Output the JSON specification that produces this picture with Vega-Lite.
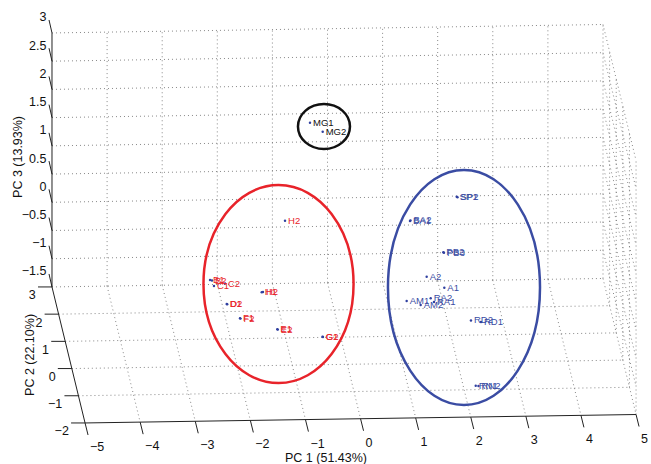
{
  "$schema": "https://vega.github.io/schema/vega-lite/v6.json",
  "width": 651,
  "height": 464,
  "autosize": {"type": "none"},
  "padding": 0,
  "background": "white",
  "config": {"view": {"stroke": null}, "font": "Liberation Sans", "text": {"font": "Liberation Sans"}},
  "encoding": {
    "x": {"field": "x", "type": "quantitative", "scale": {"domain": [-5.9437, 5.8711], "nice": false, "zero": false}, "axis": null},
    "y": {"field": "y", "type": "quantitative", "scale": {"domain": [-4.637, 3.584], "nice": false, "zero": false}, "axis": null}
  },
  "datasets": {
    "grid": [
      {"x": -4, "y": -1.485, "x2": -4, "y2": 3.015},
      {"x": -3, "y": -1.47, "x2": -3, "y2": 3.03},
      {"x": -2, "y": -1.455, "x2": -2, "y2": 3.045},
      {"x": -1, "y": -1.44, "x2": -1, "y2": 3.06},
      {"x": 0, "y": -1.425, "x2": 0, "y2": 3.075},
      {"x": 1, "y": -1.41, "x2": 1, "y2": 3.09},
      {"x": 2, "y": -1.395, "x2": 2, "y2": 3.105},
      {"x": 3, "y": -1.38, "x2": 3, "y2": 3.12},
      {"x": 4, "y": -1.365, "x2": 4, "y2": 3.135},
      {"x": 5, "y": -1.35, "x2": 5, "y2": 3.15},
      {"x": -5, "y": 3, "x2": 5, "y2": 3.15},
      {"x": -5, "y": 2.5, "x2": 5, "y2": 2.65},
      {"x": -5, "y": 2, "x2": 5, "y2": 2.15},
      {"x": -5, "y": 1.5, "x2": 5, "y2": 1.65},
      {"x": -5, "y": 1, "x2": 5, "y2": 1.15},
      {"x": -5, "y": 0.5, "x2": 5, "y2": 0.65},
      {"x": -5, "y": 0, "x2": 5, "y2": 0.15},
      {"x": -5, "y": -0.5, "x2": 5, "y2": -0.35},
      {"x": -5, "y": -1, "x2": 5, "y2": -0.85},
      {"x": -5, "y": -1.5, "x2": 5, "y2": -1.35},
      {"x": -4.88, "y": -1.982, "x2": 5.12, "y2": -1.832},
      {"x": -4.76, "y": -2.464, "x2": 5.24, "y2": -2.314},
      {"x": -4.64, "y": -2.946, "x2": 5.36, "y2": -2.796},
      {"x": -4.52, "y": -3.428, "x2": 5.48, "y2": -3.278},
      {"x": -4, "y": -1.485, "x2": -3.4, "y2": -3.895},
      {"x": -3, "y": -1.47, "x2": -2.4, "y2": -3.88},
      {"x": -2, "y": -1.455, "x2": -1.4, "y2": -3.865},
      {"x": -1, "y": -1.44, "x2": -0.4, "y2": -3.85},
      {"x": 0, "y": -1.425, "x2": 0.6, "y2": -3.835},
      {"x": 1, "y": -1.41, "x2": 1.6, "y2": -3.82},
      {"x": 2, "y": -1.395, "x2": 2.6, "y2": -3.805},
      {"x": 3, "y": -1.38, "x2": 3.6, "y2": -3.79},
      {"x": 4, "y": -1.365, "x2": 4.6, "y2": -3.775},
      {"x": 5, "y": -1.35, "x2": 5.6, "y2": -3.76},
      {"x": 5, "y": 3.15, "x2": 5.6, "y2": 0.74},
      {"x": 5, "y": 2.65, "x2": 5.6, "y2": 0.24},
      {"x": 5, "y": 2.15, "x2": 5.6, "y2": -0.26},
      {"x": 5, "y": 1.65, "x2": 5.6, "y2": -0.76},
      {"x": 5, "y": 1.15, "x2": 5.6, "y2": -1.26},
      {"x": 5, "y": 0.65, "x2": 5.6, "y2": -1.76},
      {"x": 5, "y": 0.15, "x2": 5.6, "y2": -2.26},
      {"x": 5, "y": -0.35, "x2": 5.6, "y2": -2.76},
      {"x": 5, "y": -0.85, "x2": 5.6, "y2": -3.26},
      {"x": 5.12, "y": -1.832, "x2": 5.12, "y2": 2.668},
      {"x": 5.24, "y": -2.314, "x2": 5.24, "y2": 2.186},
      {"x": 5.36, "y": -2.796, "x2": 5.36, "y2": 1.704},
      {"x": 5.48, "y": -3.278, "x2": 5.48, "y2": 1.222},
      {"x": 5.6, "y": -3.76, "x2": 5.6, "y2": 0.74}
    ],
    "axes": [
      {"x": -5, "y": -1.5, "x2": -5, "y2": 3},
      {"x": -5, "y": -1.5, "x2": -4.4, "y2": -3.91},
      {"x": -4.4, "y": -3.91, "x2": 5.6, "y2": -3.76},
      {"x": -5, "y": 3, "x2": -5.054, "y2": 3.23},
      {"x": -5, "y": 2.5, "x2": -5.054, "y2": 2.73},
      {"x": -5, "y": 2, "x2": -5.054, "y2": 2.23},
      {"x": -5, "y": 1.5, "x2": -5.054, "y2": 1.73},
      {"x": -5, "y": 1, "x2": -5.054, "y2": 1.23},
      {"x": -5, "y": 0.5, "x2": -5.054, "y2": 0.73},
      {"x": -5, "y": 0, "x2": -5.054, "y2": 0.23},
      {"x": -5, "y": -0.5, "x2": -5.054, "y2": -0.27},
      {"x": -5, "y": -1, "x2": -5.054, "y2": -0.77},
      {"x": -5, "y": -1.5, "x2": -5.054, "y2": -1.27},
      {"x": -5, "y": -1.5, "x2": -5.254, "y2": -1.5},
      {"x": -4.88, "y": -1.982, "x2": -5.134, "y2": -1.982},
      {"x": -4.76, "y": -2.464, "x2": -5.014, "y2": -2.464},
      {"x": -4.64, "y": -2.946, "x2": -4.894, "y2": -2.946},
      {"x": -4.52, "y": -3.428, "x2": -4.774, "y2": -3.428},
      {"x": -4.4, "y": -3.91, "x2": -4.654, "y2": -3.91},
      {"x": -4.4, "y": -3.91, "x2": -4.346, "y2": -4.123},
      {"x": -3.4, "y": -3.895, "x2": -3.346, "y2": -4.108},
      {"x": -2.4, "y": -3.88, "x2": -2.346, "y2": -4.093},
      {"x": -1.4, "y": -3.865, "x2": -1.346, "y2": -4.078},
      {"x": -0.4, "y": -3.85, "x2": -0.346, "y2": -4.063},
      {"x": 0.6, "y": -3.835, "x2": 0.654, "y2": -4.048},
      {"x": 1.6, "y": -3.82, "x2": 1.654, "y2": -4.033},
      {"x": 2.6, "y": -3.805, "x2": 2.654, "y2": -4.018},
      {"x": 3.6, "y": -3.79, "x2": 3.654, "y2": -4.003},
      {"x": 4.6, "y": -3.775, "x2": 4.654, "y2": -3.988},
      {"x": 5.6, "y": -3.76, "x2": 5.654, "y2": -3.973}
    ],
    "pc3labels": [
      {"x": -5.1, "y": 3.275, "label": "3"},
      {"x": -5.1, "y": 2.775, "label": "2.5"},
      {"x": -5.1, "y": 2.275, "label": "2"},
      {"x": -5.1, "y": 1.775, "label": "1.5"},
      {"x": -5.1, "y": 1.275, "label": "1"},
      {"x": -5.1, "y": 0.775, "label": "0.5"},
      {"x": -5.1, "y": 0.275, "label": "0"},
      {"x": -5.1, "y": -0.225, "label": "−0.5"},
      {"x": -5.1, "y": -0.725, "label": "−1"},
      {"x": -5.1, "y": -1.225, "label": "−1.5"}
    ],
    "pc2labels": [
      {"x": -5.294, "y": -1.65, "label": "3"},
      {"x": -5.174, "y": -2.132, "label": "2"},
      {"x": -5.054, "y": -2.614, "label": "1"},
      {"x": -4.934, "y": -3.096, "label": "0"},
      {"x": -4.814, "y": -3.578, "label": "−1"},
      {"x": -4.694, "y": -4.06, "label": "−2"}
    ],
    "pc1labels": [
      {"x": -4.31, "y": -4.336, "label": "−5"},
      {"x": -3.31, "y": -4.321, "label": "−4"},
      {"x": -2.31, "y": -4.306, "label": "−3"},
      {"x": -1.31, "y": -4.291, "label": "−2"},
      {"x": -0.31, "y": -4.276, "label": "−1"},
      {"x": 0.69, "y": -4.261, "label": "0"},
      {"x": 1.69, "y": -4.246, "label": "1"},
      {"x": 2.69, "y": -4.231, "label": "2"},
      {"x": 3.69, "y": -4.216, "label": "3"},
      {"x": 4.69, "y": -4.201, "label": "4"},
      {"x": 5.69, "y": -4.186, "label": "5"}
    ],
    "titles": [
      {"x": -5.399, "y": -2.705, "label": "PC 2 (22.10%)"},
      {"x": -5.617, "y": 0.803, "label": "PC 3 (13.93%)"}
    ],
    "ellipses": [
      {"x": -0.064, "y": 1.343, "grp": "black"},
      {"x": -0.889, "y": -1.448, "grp": "red"},
      {"x": 2.477, "y": -1.51, "grp": "blue"}
    ],
    "points": [
      {"x": -0.771, "y": -0.326, "name": "H2", "grp": "red"},
      {"x": -2.132, "y": -1.377, "name": "B1", "grp": "red"},
      {"x": -2.096, "y": -1.386, "name": "B2", "grp": "red"},
      {"x": -2.06, "y": -1.483, "name": "C1", "grp": "red"},
      {"x": -1.86, "y": -1.439, "name": "C2", "grp": "red"},
      {"x": -1.194, "y": -1.595, "name": "H1", "grp": "red"},
      {"x": -1.171, "y": -1.589, "name": "H2", "grp": "red"},
      {"x": -1.829, "y": -1.802, "name": "D1", "grp": "red"},
      {"x": -1.82, "y": -1.807, "name": "D2", "grp": "red"},
      {"x": -1.588, "y": -2.055, "name": "F1", "grp": "red"},
      {"x": -1.579, "y": -2.061, "name": "F2", "grp": "red"},
      {"x": -0.911, "y": -2.25, "name": "E1", "grp": "red"},
      {"x": -0.902, "y": -2.256, "name": "E2", "grp": "red"},
      {"x": -0.091, "y": -2.381, "name": "G1", "grp": "red"},
      {"x": -0.082, "y": -2.387, "name": "G2", "grp": "red"},
      {"x": 2.345, "y": 0.099, "name": "SP1", "grp": "blue"},
      {"x": 2.359, "y": 0.09, "name": "SP2", "grp": "blue"},
      {"x": 1.497, "y": -0.331, "name": "BA1", "grp": "blue"},
      {"x": 1.506, "y": -0.321, "name": "BA2", "grp": "blue"},
      {"x": 2.102, "y": -0.884, "name": "PB2", "grp": "blue"},
      {"x": 2.114, "y": -0.893, "name": "PB3", "grp": "blue"},
      {"x": 1.8, "y": -1.318, "name": "A2", "grp": "blue"},
      {"x": 2.12, "y": -1.513, "name": "A1", "grp": "blue"},
      {"x": 1.437, "y": -1.749, "name": "AM1", "grp": "blue"},
      {"x": 1.691, "y": -1.82, "name": "AM2", "grp": "blue"},
      {"x": 1.873, "y": -1.701, "name": "RA2", "grp": "blue"},
      {"x": 1.933, "y": -1.766, "name": "RA1", "grp": "blue"},
      {"x": 2.604, "y": -2.094, "name": "RD2", "grp": "blue"},
      {"x": 2.786, "y": -2.121, "name": "RD1", "grp": "blue"},
      {"x": 2.69, "y": -3.249, "name": "RN1", "grp": "blue"},
      {"x": 2.74, "y": -3.255, "name": "RN2", "grp": "blue"},
      {"x": -0.318, "y": 1.41, "name": "MG1", "grp": "black"},
      {"x": -0.087, "y": 1.251, "name": "MG2", "grp": "black"}
    ]
  },
  "layer": [
    {
      "data": {"name": "grid"},
      "mark": {"type": "rule", "stroke": "#7a7a7a", "strokeWidth": 0.9, "strokeDash": [1, 3]},
      "encoding": {"x2": {"field": "x2"}, "y2": {"field": "y2"}}
    },
    {
      "data": {"name": "axes"},
      "mark": {"type": "rule", "stroke": "#222222", "strokeWidth": 1},
      "encoding": {"x2": {"field": "x2"}, "y2": {"field": "y2"}}
    },
    {
      "data": {"name": "ellipses"},
      "transform": [{"filter": "datum.grp === 'black'"}],
      "mark": {"type": "point", "filled": false, "opacity": 1, "stroke": "#111111", "strokeWidth": 2.5, "size": 2025,
        "shape": "M0,-1C0.6384,-1,1.156,-0.5523,1.156,0C1.156,0.5523,0.6384,1,0,1C-0.6384,1,-1.156,0.5523,-1.156,0C-1.156,-0.5523,-0.6384,-1,0,-1Z"}
    },
    {
      "data": {"name": "ellipses"},
      "transform": [{"filter": "datum.grp === 'red'"}],
      "mark": {"type": "point", "filled": false, "opacity": 1, "stroke": "#e8232a", "strokeWidth": 2.5, "size": 39204,
        "shape": "M0,-1C0.4186,-1,0.758,-0.5523,0.758,0C0.758,0.5523,0.4186,1,0,1C-0.4186,1,-0.758,0.5523,-0.758,0C-0.758,-0.5523,-0.4186,-1,0,-1Z"}
    },
    {
      "data": {"name": "ellipses"},
      "transform": [{"filter": "datum.grp === 'blue'"}],
      "mark": {"type": "point", "filled": false, "opacity": 1, "stroke": "#3a4ca3", "strokeWidth": 2.5, "size": 55225,
        "shape": "M0,-1C0.3573,-1,0.647,-0.5523,0.647,0C0.647,0.5523,0.3573,1,0,1C-0.3573,1,-0.647,0.5523,-0.647,0C-0.647,-0.5523,-0.3573,-1,0,-1Z"}
    },
    {
      "data": {"name": "points"},
      "mark": {"type": "point", "filled": true, "opacity": 1, "shape": "circle", "size": 6, "color": "#3040a0"}
    },
    {
      "data": {"name": "points"},
      "mark": {"type": "text", "align": "left", "baseline": "middle", "dx": 3, "fontSize": 9.5, "font": "Liberation Sans"},
      "encoding": {
        "text": {"field": "name"},
        "color": {"field": "grp", "type": "nominal", "scale": {"domain": ["red", "blue", "black"], "range": ["#e8232a", "#3a4ca3", "#111111"]}, "legend": null}
      }
    },
    {
      "data": {"name": "pc3labels"},
      "mark": {"type": "text", "align": "right", "baseline": "middle", "fontSize": 12.5, "color": "#111111", "font": "Liberation Sans"},
      "encoding": {"text": {"field": "label"}}
    },
    {
      "data": {"name": "pc2labels"},
      "mark": {"type": "text", "align": "right", "baseline": "middle", "fontSize": 12.5, "color": "#111111", "font": "Liberation Sans"},
      "encoding": {"text": {"field": "label"}}
    },
    {
      "data": {"name": "pc1labels"},
      "mark": {"type": "text", "align": "left", "baseline": "middle", "fontSize": 12.5, "color": "#111111", "font": "Liberation Sans"},
      "encoding": {"text": {"field": "label"}}
    },
    {
      "data": {"values": [{"x": -0.027, "y": -4.53, "label": "PC 1 (51.43%)"}]},
      "mark": {"type": "text", "align": "center", "baseline": "middle", "fontSize": 12.5, "color": "#111111", "font": "Liberation Sans"},
      "encoding": {"text": {"field": "label"}}
    },
    {
      "data": {"name": "titles"},
      "mark": {"type": "text", "align": "center", "baseline": "middle", "angle": 270, "fontSize": 12.5, "color": "#111111", "font": "Liberation Sans"},
      "encoding": {"text": {"field": "label"}}
    }
  ]
}
